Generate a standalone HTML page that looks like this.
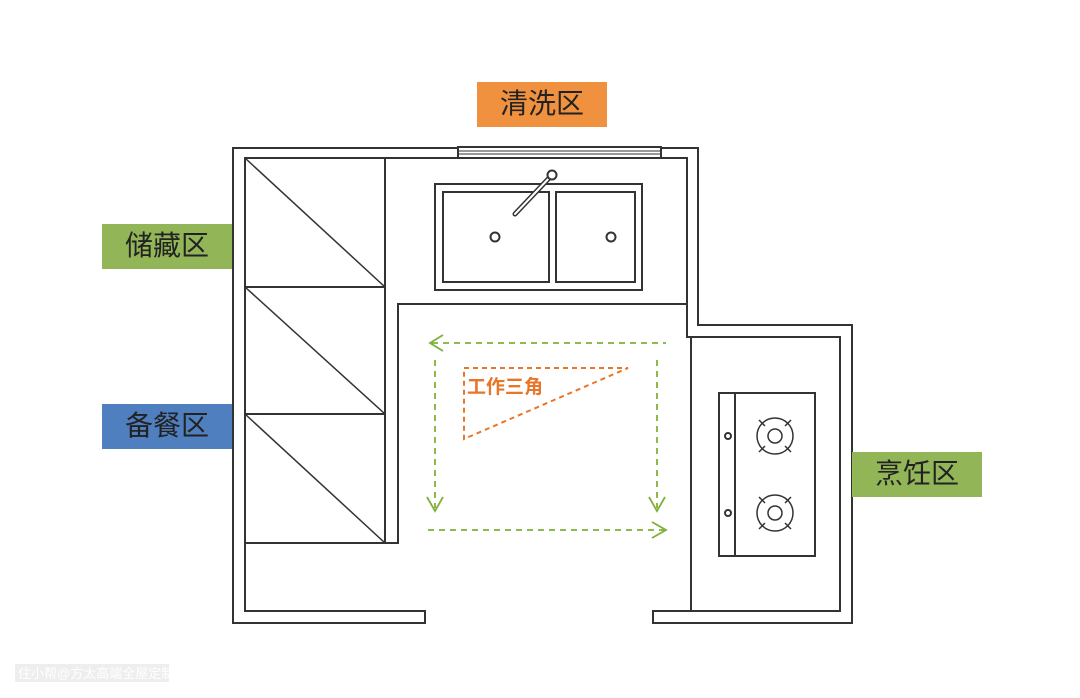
<!DOCTYPE html>
<html><head><meta charset="utf-8"><style>
html,body{margin:0;padding:0;background:#fff;width:1080px;height:698px;overflow:hidden}
.l{position:absolute;width:130px;height:45px;line-height:49px;text-align:center;font:28px "Liberation Sans","Noto Sans CJK SC",sans-serif;color:#222}
</style></head><body>
<svg width="1080" height="698" style="position:absolute;left:0;top:0" xmlns="http://www.w3.org/2000/svg">
<g fill="none" stroke="#333" stroke-width="2">
<path d="M233,148 H698 V325 H852 V623 H653 V611 H840 V337 H687 V158 H245 V611 H425 V623 H233 Z"/>
<line x1="691" y1="337" x2="691" y2="611"/>
<path d="M687,304 H398 V543 H245"/>
<line x1="385" y1="158" x2="385" y2="543"/>
<line x1="245" y1="287" x2="385" y2="287"/>
<line x1="245" y1="414" x2="385" y2="414"/>
<line x1="245" y1="158" x2="385" y2="287" stroke-width="1.5"/>
<line x1="245" y1="287" x2="385" y2="414" stroke-width="1.5"/>
<line x1="245" y1="414" x2="385" y2="543" stroke-width="1.5"/>
<rect x="458" y="147" width="203" height="11" fill="#fff"/>
<line x1="458" y1="151" x2="661" y2="151" stroke-width="1"/>
<line x1="458" y1="154" x2="661" y2="154" stroke-width="1"/>
<rect x="435" y="184" width="207" height="106"/>
<rect x="443" y="192" width="106" height="90"/>
<rect x="556" y="192" width="79" height="90"/>
<circle cx="495" cy="237" r="4.5"/>
<circle cx="611" cy="237" r="4.5"/>
<line x1="552" y1="175" x2="515" y2="214" stroke-width="5" stroke-linecap="round"/>
<line x1="552" y1="175" x2="515" y2="214" stroke="#fff" stroke-width="2" stroke-linecap="round"/>
<circle cx="552" cy="175" r="4.5" fill="#fff"/>
<rect x="719" y="393" width="96" height="163"/>
<line x1="735" y1="393" x2="735" y2="556"/>
<circle cx="728" cy="436" r="3"/>
<circle cx="728" cy="513" r="3"/>
<g stroke-width="1.5">
<circle cx="775" cy="436" r="18"/><circle cx="775" cy="436" r="7"/>
<path d="M759,420 l6,6 M791,420 l-6,6 M759,452 l6,-6 M791,452 l-6,-6"/>
<circle cx="775" cy="513" r="18"/><circle cx="775" cy="513" r="7"/>
<path d="M759,497 l6,6 M791,497 l-6,6 M759,529 l6,-6 M791,529 l-6,-6"/>
</g>
</g>
<g fill="none" stroke="#7fb03a" stroke-width="1.8">
<g stroke-dasharray="6,5">
<line x1="432" y1="343" x2="666" y2="343"/>
<line x1="435" y1="360" x2="435" y2="508"/>
<line x1="657" y1="360" x2="657" y2="508"/>
<line x1="428" y1="530" x2="664" y2="530"/>
</g>
<path d="M443,335 L430,343 L443,351"/>
<path d="M427,497 L435,511 L443,497"/>
<path d="M649,497 L657,511 L665,497"/>
<path d="M652,522 L666,530 L652,538"/>
</g>
<path d="M464,368 H628 L464,439 Z" fill="none" stroke="#e8762a" stroke-width="2" stroke-dasharray="5,4"/>
<text x="467" y="393" font-family="Liberation Sans,Noto Sans CJK SC,sans-serif" font-size="19" font-weight="bold" fill="#e8762a">工作三角</text>
<rect x="15" y="664" width="154" height="18" fill="#eee"/>
<text x="18" y="678" font-family="Liberation Sans,Noto Sans CJK SC,sans-serif" font-size="13" fill="#fff">住小帮@方太高端全屋定制</text>
</svg>
<div class="l" style="left:477px;top:82px;background:#f0913f">清洗区</div>
<div class="l" style="left:102px;top:224px;background:#92b558">储藏区</div>
<div class="l" style="left:102px;top:404px;background:#4f7fbf">备餐区</div>
<div class="l" style="left:852px;top:452px;background:#92b558">烹饪区</div>
</body></html>
